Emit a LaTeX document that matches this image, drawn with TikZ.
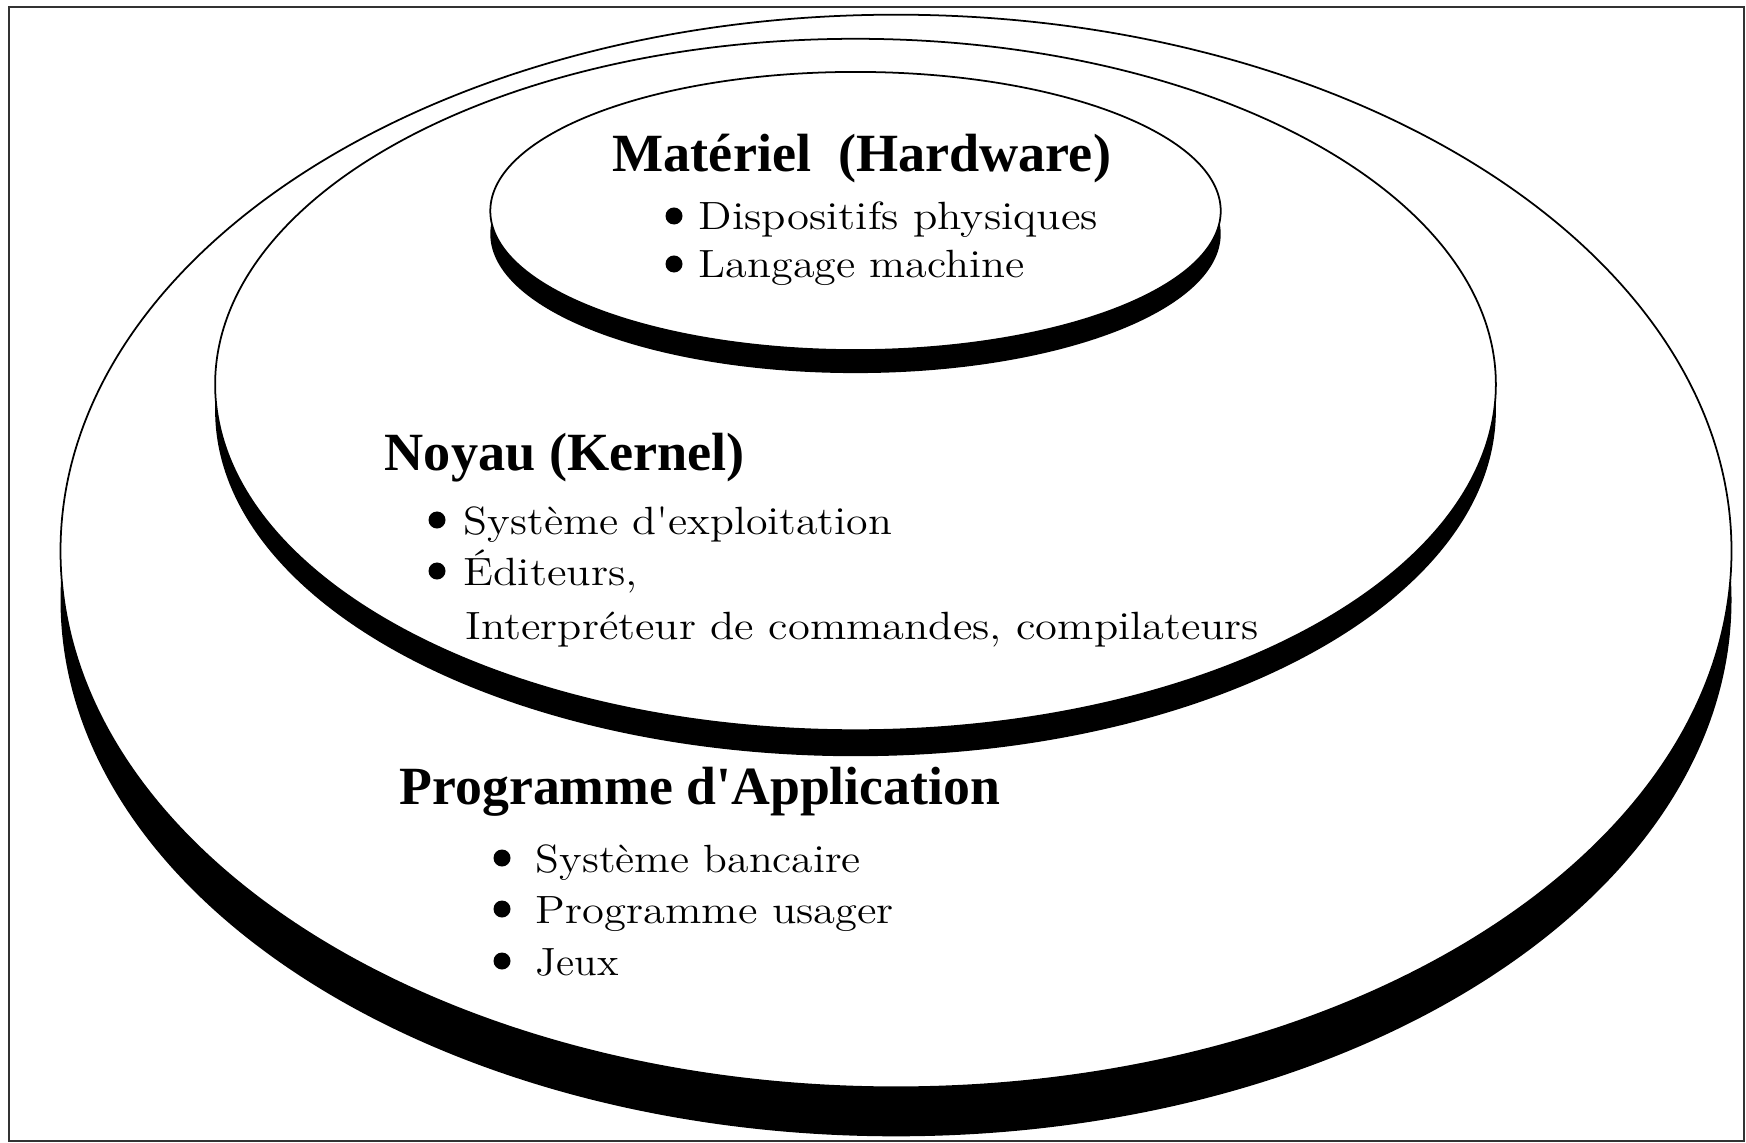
\documentclass[tikz,border=0pt]{standalone}
\usepackage{fontspec}
\usepackage{graphicx}
\newfontfamily\headfont{Liberation Serif}
% stretch a text horizontally to a given width, keeping its height
\newcommand\fitw[2]{\resizebox{#1}{\height}{#2}}
\tikzset{
  frame/.style={draw=black!80, line width=0.7pt},
  shadow/.style={fill=black},
  disk/.style={fill=white, draw=black, line width=0.5pt},
  heading/.style={anchor=base west, inner sep=0pt,
    font=\headfont\bfseries\fontsize{15.3}{18}\selectfont},
  item/.style={anchor=base west, inner sep=0pt,
    font=\fontsize{11.2}{13}\selectfont},
  dot/.style={circle, fill=black, inner sep=0pt, minimum size=0.17cm},
}
\begin{document}
\begin{tikzpicture}[x=0.01cm, y=-0.01cm]
\useasboundingbox (0,0) rectangle (1746,1143);
\draw[frame] (9,7) rectangle (1744,1141);

% application layer: outer disk with its dark edge
\fill[shadow] (896,600) ellipse [x radius=8.35cm, y radius=5.36cm];
\draw[disk]   (896,551) ellipse [x radius=8.35cm, y radius=5.36cm];

% kernel layer
\fill[shadow] (855.5,410.5) ellipse [x radius=6.4cm, y radius=3.455cm];
\draw[disk]   (855.5,384.5) ellipse [x radius=6.4cm, y radius=3.455cm];

% hardware layer
\fill[shadow] (855.5,234) ellipse [x radius=3.65cm, y radius=1.39cm];
\draw[disk]   (855.5,211) ellipse [x radius=3.65cm, y radius=1.39cm];

% hardware texts
\node[heading] (hw) at (612,172) {\fitw{4.98cm}{Matériel\ \ (Hardware)}};
\node[dot] (hwb1) at (674,216) {};
\node[item] (hw1) at (698,230) {\fitw{3.99cm}{Dispositifs physiques}};
\node[dot] (hwb2) at (674,264) {};
\node[item] (hw2) at (698,278) {\fitw{3.26cm}{Langage machine}};

% kernel texts
\node[heading] (kn) at (384,470) {\fitw{3.60cm}{Noyau (Kernel)}};
\node[dot] (knb1) at (437,520) {};
\node[item] (kn1) at (463,534) {\fitw{4.28cm}{Système d\textquotesingle exploitation}};
\node[dot] (knb2) at (437,571) {};
\node[item] (kn2) at (463,585) {\fitw{1.74cm}{Éditeurs,}};
\node[item] (kn3) at (465,639) {\fitw{7.93cm}{Interpréteur de commandes, compilateurs}};

% application texts
\node[heading] (ap) at (399,804) {\fitw{6.00cm}{Programme d\textquotesingle Application}};
\node[dot] (apb1) at (502,858) {};
\node[item] (ap1) at (535,872) {\fitw{3.25cm}{Système bancaire}};
\node[dot] (apb2) at (502,909) {};
\node[item] (ap2) at (535,923) {\fitw{3.58cm}{Programme usager}};
\node[dot] (apb3) at (502,961) {};
\node[item] (ap3) at (535,975) {\fitw{0.83cm}{Jeux}};
\end{tikzpicture}
\end{document}
